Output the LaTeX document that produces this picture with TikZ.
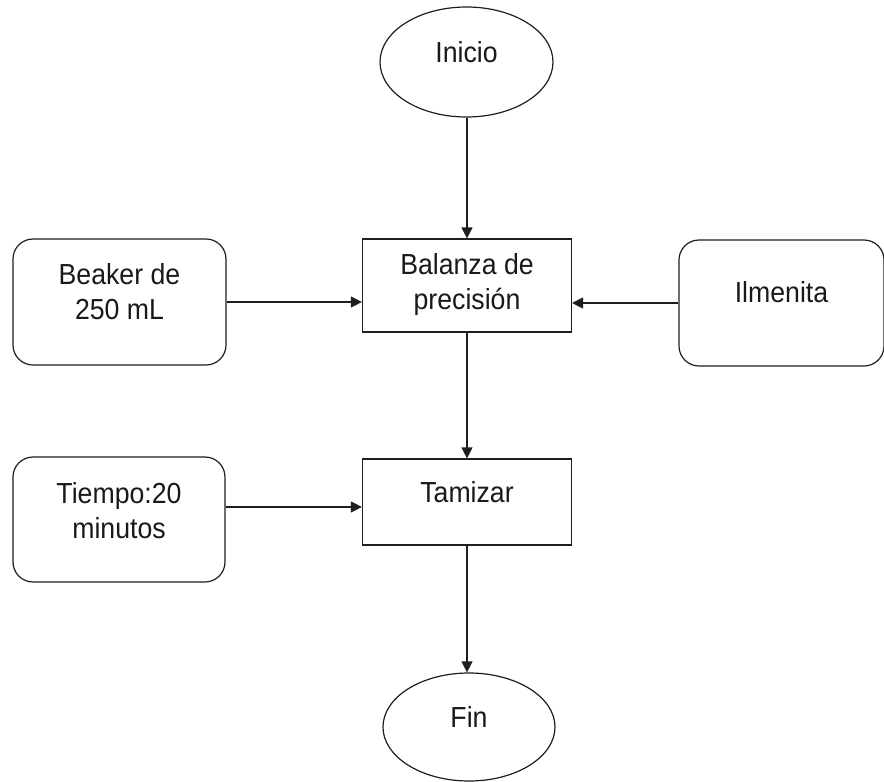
\documentclass[tikz,border=0pt]{standalone}
\usepackage{fontspec}
\setmainfont{Liberation Sans}[FakeStretch=0.92]
\usetikzlibrary{shapes.geometric,arrows.meta}
\definecolor{linegray}{RGB}{30,30,30}
\definecolor{textgray}{RGB}{25,25,25}
\tikzset{
	shapeline/.style={draw=linegray, line width=1.2pt, inner sep=0pt},
	boxtext/.style 2 args={label={[align=center, text=textgray, yshift=#2, font=\fontsize{29}{35}\selectfont]center:{#1}}},
	terminal/.style={shapeline, ellipse, minimum width=173pt, minimum height=110pt},
	process/.style={shapeline, rectangle, minimum width=209pt},
	material/.style={shapeline, rectangle, rounded corners=20pt, minimum height=126pt},
	flow/.style={draw=linegray, line width=1.2pt, -{Triangle[length=11pt,width=11pt]}}
}

\begin{document}
\begin{tikzpicture}
		\useasboundingbox (0pt,0pt) rectangle (884pt,-782pt);
		\node[terminal, boxtext={Inicio}{10pt}] (inicio) at (466.5pt,-62pt) {};
		\node[process, minimum height=93pt, boxtext={Balanza de\\precisión}{1pt}] (balanza) at (467pt,-285.5pt) {};
		\node[material, minimum width=213pt, boxtext={Beaker de\\250 mL}{10pt}] (beaker) at (119.5pt,-302pt) {};
		\node[material, minimum width=205pt, boxtext={Ilmenita}{11pt}] (ilmenita) at (781.5pt,-303pt) {};
		\node[process, minimum height=86pt, boxtext={Tamizar}{10pt}] (tamizar) at (467pt,-502pt) {};
		\node[material, minimum width=212pt, minimum height=125pt, boxtext={Tiempo:20\\minutos}{9pt}] (tiempo) at (119pt,-519.5pt) {};
		\node[terminal, minimum width=172pt, minimum height=108pt, boxtext={Fin}{10pt}] (fin) at (469pt,-727pt) {};
		\coordinate (tiempoout) at ([yshift=12.5pt]tiempo.east);
		\draw[flow] (inicio.south -| balanza.north) -- (balanza.north);
		\draw[flow] (beaker.east) -- (beaker.east -| balanza.west);
		\draw[flow] (ilmenita.west) -- (ilmenita.west -| balanza.east);
		\draw[flow] (balanza.south) -- (tamizar.north);
		\draw[flow] (tiempoout) -- (tiempoout -| tamizar.west);
		\draw[flow] (tamizar.south) -- (tamizar.south |- fin.north);
\end{tikzpicture}
\end{document}
